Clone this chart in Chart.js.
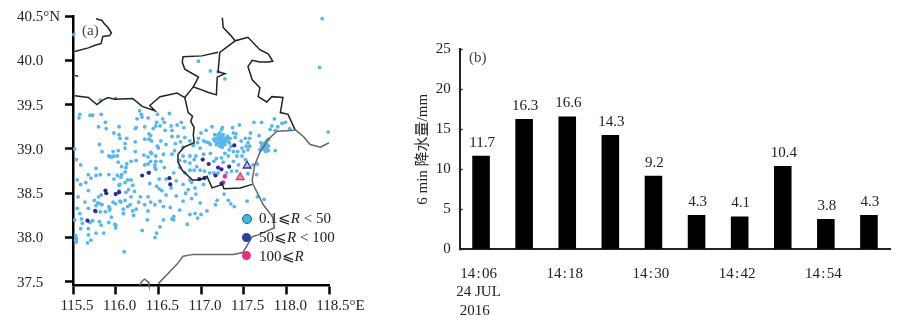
<!DOCTYPE html>
<html lang="en">
<head>
<meta charset="UTF-8">
<title>Rain stations and 6 min rainfall</title>
<script src="https://cdn.jsdelivr.net/npm/chart.js@4"></script>
<style>
body { margin: 0; background: #fff; }
#page { position: relative; width: 907px; height: 326px; overflow: hidden; font-family: "Liberation Serif", serif; font-size: 15px; color: #222; }
canvas { position: absolute; top: 0; }
#mapChart { left: 0; }
#barChart { left: 400px; }
.note { position: absolute; line-height: 18px; white-space: nowrap; }
.dot { position: absolute; border-radius: 50%; width: 9px; height: 9px; }
</style>
</head>
<body>
<div id="page">
  <canvas id="mapChart" width="400" height="326"></canvas>
  <canvas id="barChart" width="507" height="326"></canvas>
  <span class="note" style="left:82px;top:21px;color:#444">(a)</span>
  <span class="note" style="left:469px;top:48px;color:#444">(b)</span>
  <span class="dot" style="left:242px;top:214px;background:#3fb9e4;border:1px solid #1c5f78;width:8px;height:8px"></span>
  <span class="dot" style="left:242px;top:233px;background:#2c419f"></span>
  <span class="dot" style="left:242px;top:251px;background:#e2327f"></span>
  <span class="note" style="left:259px;top:209px">0.1⩽<i>R</i> &lt; 50</span>
  <span class="note" style="left:259px;top:228px">50⩽<i>R</i> &lt; 100</span>
  <span class="note" style="left:259px;top:247px">100⩽<i>R</i></span>
</div>

<script>
// panel (a) axes
const lonTicks = [115.5, 116, 116.5, 117, 117.5, 118, 118.5];
const lonLabels = ['115.5', '116.0', '116.5', '117.0', '117.5', '118.0', '\u00a0\u00a0\u00a0\u00a0118.5°E'];
const latTicks = [37.5, 38, 38.5, 39, 39.5, 40, 40.5];
const latLabels = ['37.5', '38.0', '38.5', '39.0', '39.5', '40.0', '40.5°N'];

// stations, [lon, lat]
const lightStations = [
[115.58,39.39],[115.57,39.35],[115.70,39.38],[115.73,39.38],[115.83,39.39],[115.88,39.30],[115.80,39.25],[115.89,39.23],[116.04,39.25],[115.98,39.18],
[116.04,39.16],[116.05,39.12],[116.13,39.12],[116.11,39.06],[116.11,39.01],[115.81,39.05],[115.84,38.97],[115.97,38.97],[116.03,38.98],[115.92,38.92],
[115.94,38.91],[115.96,38.91],[115.98,38.92],[116.02,38.92],[115.52,39.00],[115.54,38.88],[115.59,38.82],[116.03,38.85],[116.07,38.80],[116.13,38.83],
[116.18,38.86],[116.24,38.87],[116.12,38.79],[115.77,38.78],[115.68,38.71],[115.77,38.70],[115.82,38.71],[115.71,38.67],[115.92,38.71],[116.02,38.70],
[116.07,38.71],[116.11,38.74],[116.06,38.68],[115.98,38.66],[115.55,38.65],[115.59,38.60],[115.65,38.62],[116.14,38.65],[116.18,38.65],[116.11,38.62],
[116.05,38.60],[116.04,38.59],[116.20,38.59],[116.15,38.54],[116.12,38.51],[116.04,38.53],[116.22,38.52],[115.68,38.53],
[116.28,39.43],[116.30,39.39],[116.31,39.36],[116.25,39.34],[116.38,39.35],[116.49,39.39],[116.55,39.34],[116.63,39.40],[116.48,39.30],[116.57,39.30],
[116.52,39.26],[116.47,39.26],[116.44,39.23],[116.34,39.25],[116.24,39.24],[116.23,39.23],[116.65,39.26],[116.66,39.21],[116.58,39.21],[116.39,39.17],
[116.41,39.15],[116.66,39.14],[116.34,39.11],[116.39,39.11],[116.42,39.09],[116.53,39.09],[116.23,39.08],[116.59,39.05],[116.49,39.03],[116.50,39.01],
[116.41,38.96],[116.23,38.97],[116.33,38.93],[116.38,38.91],[116.42,38.95],[116.56,38.94],[116.47,38.92],[116.66,38.94],[116.41,38.86],[116.47,38.86],
[116.53,38.86],[116.38,38.83],[116.34,38.82],[116.46,38.82],[116.46,38.79],[116.57,38.79],[116.47,38.77],[116.38,38.73],[116.51,38.66],[116.59,38.66],
[116.40,38.61],[116.48,38.58],[116.51,38.55],[116.54,38.53],[116.65,38.56],
[115.56,38.46],[115.80,38.46],[115.83,38.48],[116.18,38.46],[116.29,38.46],[116.38,38.46],[116.59,38.48],[115.75,38.42],[115.64,38.40],[115.79,38.39],
[115.82,38.38],[115.84,38.37],[115.97,38.40],[116.00,38.38],[116.05,38.41],[116.06,38.40],[116.11,38.42],[116.27,38.40],[116.41,38.40],[116.52,38.41],
[116.46,38.37],[116.34,38.37],[116.14,38.35],[116.17,38.37],[115.92,38.35],[115.93,38.33],[115.55,38.33],[115.68,38.33],[115.77,38.36],[116.09,38.32],
[116.56,38.35],[116.24,38.32],[116.20,38.30],[116.38,38.30],[116.64,38.34],[115.82,38.29],[115.88,38.29],[115.93,38.31],[115.58,38.27],[116.09,38.27],
[116.21,38.25],[115.95,38.23],[115.77,38.29],[115.60,38.21],[115.52,38.20],[115.73,38.19],[115.81,38.18],[115.92,38.17],[116.37,38.20],[116.56,38.20],
[116.66,38.21],[115.61,38.16],[115.70,38.17],[115.83,38.14],[115.99,38.15],[116.00,38.14],[116.00,38.11],[115.59,38.10],[115.68,38.10],[116.52,38.12],
[116.31,38.08],[115.77,38.05],[115.86,38.05],[116.48,38.05],[115.68,38.03],[116.46,38.00],[115.53,38.02],[115.54,37.99],[115.53,37.97],[115.54,37.95],
[115.71,37.97],[115.67,37.94],[116.10,37.84],
[118.42,40.47],[118.39,39.92],[118.49,39.19],[116.97,39.99],[117.11,39.88],[117.20,39.87],[117.28,39.79],[115.51,40.29],[115.82,39.55],[116.00,39.57],
[116.72,39.27],[116.77,39.30],[116.80,39.24],[116.73,39.14],[116.81,39.13],[116.76,39.08],[116.70,39.06],[116.79,39.02],[116.69,38.98],[117.00,39.18],
[117.06,39.21],[117.13,39.25],[117.37,39.24],[117.45,39.27],[117.62,39.30],[117.71,39.30],[117.41,39.17],[117.58,39.18],[117.68,39.15],[117.47,39.09],
[117.34,39.12],[116.97,39.12],[116.87,39.09],[116.91,39.04],[116.96,39.07],[116.99,39.01],[117.03,39.09],[117.06,39.08],[117.09,39.07],[117.11,39.05],
[117.16,39.09],[117.18,39.12],[117.20,39.16],[117.22,39.18],[117.24,39.22],[117.25,39.24],[117.22,39.11],[117.24,39.09],[117.26,39.07],[117.28,39.05],
[117.20,39.07],[117.22,39.03],[117.25,39.02],[117.28,39.12],[117.31,39.14],[117.18,39.05],[117.15,39.11],[117.16,39.16],[117.21,39.13],[117.24,39.14],
[117.26,39.16],[117.28,39.09],[117.30,39.09],[117.32,39.11],[117.33,39.07],[117.35,39.03],[117.23,39.12],[117.25,39.11],[117.20,39.11],[117.23,39.07],
[117.26,39.12],[117.22,39.15],[117.20,39.09],[117.24,39.05],
[117.38,39.18],[117.40,39.13],[117.33,38.99],[117.38,38.97],[117.43,38.97],[117.48,39.01],[117.53,39.03],[117.55,39.07],[117.57,39.12],[117.52,39.12],
[117.57,39.03],[117.55,38.99],[117.50,38.97],[117.48,38.92],[117.52,38.88],[117.28,38.95],[117.32,38.92],[117.24,38.90],[117.18,38.89],[117.11,38.95],
[117.03,38.94],[116.94,38.92],[116.87,38.92],[116.79,38.92],[116.81,38.86],[116.75,38.87],[116.87,38.84],[116.92,38.88],[116.95,38.80],[116.92,38.76],
[116.87,38.76],[116.99,38.76],[117.04,38.75],[117.15,38.86],[117.26,38.85],[117.38,38.86],[117.42,38.92],[117.44,38.82],[117.42,38.75],[117.36,38.75],
[117.30,38.73],[117.20,38.73],[117.15,38.73],[117.10,38.73],[117.55,38.72],[117.65,38.71],[117.61,38.82],[117.66,38.83],[116.75,38.79],[116.81,38.73],
[116.87,38.65],[116.89,38.62],[116.85,38.54],[116.79,38.60],[116.68,38.73],[116.71,38.64],[116.93,38.56],[117.03,38.60],
[117.69,38.99],[117.71,39.03],[117.73,39.05],[117.75,39.07],[117.77,39.09],[117.79,39.11],[117.72,39.02],[117.75,39.03],[117.77,39.05],[117.74,38.99],
[117.77,39.00],[117.70,39.07],[117.79,39.03],[117.79,38.98],[117.76,38.97],[117.86,39.34],[117.81,39.22],[117.83,39.26],[117.90,39.25],[117.95,39.29],
[117.99,39.30],[118.04,39.23],[117.87,39.21],[117.87,38.98],
[116.82,38.50],[116.71,38.47],[116.89,38.44],[116.94,38.49],[116.79,38.41],[116.99,38.39],[116.75,38.31],[116.87,38.26],[116.93,38.27],[116.96,38.22],
[117.00,38.26],[117.07,38.30],[116.68,38.24],[116.68,38.20],[116.84,38.15],[117.17,38.37],[117.19,38.42],[117.27,38.49],[117.32,38.42],[117.35,38.38],
[117.39,38.35],[117.54,38.41],[117.74,38.43],[117.66,38.46]
];
const darkStations = [
[116.31,38.70],[116.39,38.73],[116.63,38.67],[116.64,38.60],[115.88,38.53],[115.89,38.50],[116.00,38.49],[116.04,38.51],[115.67,38.19],[115.76,38.30],
[117.39,39.04],[117.02,38.88],[117.09,38.83],[117.20,38.79],[117.24,38.77],[117.33,38.80],[117.17,38.70],[117.04,38.67],[116.98,38.66],[117.24,38.61]
];
const heavyStations = [[117.28,38.69],[117.26,38.62]];
const blueTriangle = [[117.54,38.81]];
const pinkTriangle = [[117.46,38.68]];

// boundaries, [lon, lat]
const northWestLine = [[115.52,40.10],[115.68,40.14],[115.76,40.17],[115.83,40.19],[115.85,40.27],[115.93,40.28],[115.95,40.31],[115.91,40.37],[115.86,40.42],[115.84,40.45],[115.77,40.47]];
const westNick = [[115.52,39.83],[115.56,39.82]];
const hebeiLine = [[115.52,39.60],[115.68,39.58],[115.78,39.50],[115.85,39.55],[115.91,39.58],[115.99,39.56],[116.20,39.57],[116.31,39.48],[116.46,39.43],[116.40,39.49],[116.52,39.59],[116.72,39.63],[116.81,39.58],[116.91,39.70]];
const tianjinWest = [[116.81,39.58],[116.85,39.41],[116.90,39.37],[116.88,39.31],[116.92,39.24],[116.91,39.16],[116.92,39.07],[116.80,39.02],[116.73,38.94],[116.73,38.85],[116.78,38.76],[116.90,38.65],[116.99,38.65],[117.07,38.69],[117.13,38.56],[117.25,38.60],[117.27,38.55],[117.46,38.56],[117.60,38.60]];
const northEastLine = [[117.25,40.48],[117.26,40.37],[117.34,40.29],[117.40,40.22],[117.55,40.26],[117.69,40.12],[117.79,40.07],[117.84,39.99],[117.79,39.98],[117.69,39.98],[117.60,40.00],[117.55,39.93],[117.60,39.78],[117.69,39.69],[117.67,39.59],[117.77,39.53],[117.83,39.59],[117.96,39.58],[117.93,39.41],[118.02,39.39],[118.10,39.22]];
const tianjinNorth = [[117.40,40.22],[117.22,40.09],[117.20,39.87],[117.28,39.85],[117.19,39.81],[117.18,39.61],[117.08,39.64],[116.97,39.68],[116.91,39.70],[116.97,39.81],[116.81,39.90],[116.78,39.98],[116.79,40.04],[117.01,40.05],[117.20,40.09]];
const coastEast = [[118.10,39.22],[118.20,39.14],[118.28,39.05],[118.40,39.02],[118.50,39.07]];
const coastSouth = [[118.10,39.21],[117.89,39.20],[117.79,39.11],[117.73,39.02],[117.69,38.96],[117.63,38.82],[117.60,38.65],[117.61,38.60],[117.73,38.37],[117.84,38.23],[117.86,38.11],[117.67,38.03],[117.60,38.01],[117.49,37.83],[117.38,37.81],[117.14,37.81],[116.91,37.81],[116.79,37.79],[116.72,37.70],[116.60,37.58],[116.50,37.48]];
const southArc = [[116.28,37.46],[116.31,37.51],[116.34,37.53],[116.38,37.50],[116.39,37.46]];

// panel (b)
const times = ['14:06','14:12','14:18','14:24','14:30','14:36','14:42','14:48','14:54','15:00'];
const rainfall = [11.7, 16.3, 16.6, 14.3, 9.2, 4.3, 4.1, 10.4, 3.8, 4.3];
const timeLabels = [['14\u200a:\u200a06','24 JUL','2016\u00a0\u00a0'],'','14\u200a:\u200a18','','14\u200a:\u200a30','','14\u200a:\u200a42','','14\u200a:\u200a54',''];

const serif = 'Liberation Serif';
const tickFont = { family: serif, size: 15 };

function pts(list) {
    return list.map(function (p) { return { x: p[0], y: p[1] }; });
}
function boundary(list, color) {
    return { type: 'scatter', data: pts(list), showLine: true, borderColor: color, borderWidth: 1.5, pointRadius: 0, clip: false, order: 1 };
}
function stations(list, color, radius, order) {
    return { type: 'scatter', data: pts(list), backgroundColor: color, borderWidth: 0, pointRadius: radius, clip: false, order: order };
}
function triangle(list, fill, line) {
    return { type: 'scatter', data: pts(list), pointStyle: 'triangle', backgroundColor: fill, borderColor: line, borderWidth: 1.3, pointRadius: 4.5, order: 0 };
}

new Chart(document.getElementById('mapChart'), {
    type: 'scatter',
    data: {
        datasets: [
            boundary(northWestLine, '#222'),
            boundary(westNick, '#222'),
            boundary(hebeiLine, '#222'),
            boundary(tianjinWest, '#222'),
            boundary(northEastLine, '#222'),
            boundary(tianjinNorth, '#222'),
            boundary(coastEast, '#666'),
            boundary(coastSouth, '#666'),
            boundary(southArc, '#666'),
            stations(lightStations, '#5ab6ea', 1.9, 3),
            stations(darkStations, '#2b2b92', 2.1, 2),
            stations(heavyStations, '#bd45a8', 2.3, 2),
            triangle(blueTriangle, 'rgba(170,170,225,0.7)', '#3333a0'),
            triangle(pinkTriangle, 'rgba(240,90,130,0.7)', '#e6305f')
        ]
    },
    options: {
        responsive: false,
        animation: false,
        layout: { padding: { left: 17, top: 16, right: 71, bottom: 0 } },
        plugins: { legend: { display: false }, tooltip: { enabled: false } },
        scales: {
            x: {
                type: 'linear', min: 115.5, max: 118.5,
                afterFit: function (s) { s.height = 40.6; },
                afterBuildTicks: function (s) { s.ticks = lonTicks.map(function (v) { return { value: v }; }); },
                grid: { drawOnChartArea: false, tickLength: 9, tickWidth: 2.5, tickColor: '#000' },
                border: { width: 2.5, color: '#000' },
                ticks: {
                    autoSkip: false, maxRotation: 0, padding: 3, labelOffset: 4,
                    font: tickFont, color: '#222',
                    callback: function (v, i) { return lonLabels[i]; }
                }
            },
            y: {
                type: 'linear', min: 37.46, max: 40.5,
                afterFit: function (s) { s.width = 56; },
                afterBuildTicks: function (s) { s.ticks = latTicks.map(function (v) { return { value: v }; }); },
                grid: { drawOnChartArea: false, tickLength: 8, tickWidth: 2.5, tickColor: '#000' },
                border: { width: 2.5, color: '#000' },
                ticks: {
                    autoSkip: false, crossAlign: 'far', labelOffset: 1,
                    font: tickFont, color: '#222',
                    callback: function (v, i) { return latLabels[i]; }
                }
            }
        }
    }
});

// value above each bar
const barValues = {
    id: 'barValues',
    afterDatasetsDraw: function (chart) {
        const ctx = chart.ctx;
        ctx.save();
        ctx.font = '15px "' + serif + '"';
        ctx.fillStyle = '#222';
        ctx.textAlign = 'center';
        ctx.textBaseline = 'middle';
        chart.getDatasetMeta(0).data.forEach(function (bar, i) {
            ctx.fillText(rainfall[i].toFixed(1), bar.x + 1, bar.y - 13);
        });
        ctx.restore();
    }
};

new Chart(document.getElementById('barChart'), {
    type: 'bar',
    data: {
        labels: times,
        datasets: [{ data: rainfall, backgroundColor: '#000', categoryPercentage: 1, barPercentage: 0.408 }]
    },
    plugins: [barValues],
    options: {
        responsive: false,
        animation: false,
        layout: { padding: { left: 14, top: 49.3, right: 16.5, bottom: 0 } },
        plugins: { legend: { display: false }, tooltip: { enabled: false } },
        scales: {
            x: {
                afterFit: function (s) { s.height = 76.7; },
                grid: { display: false },
                border: { width: 2, color: '#222' },
                ticks: {
                    autoSkip: false, maxRotation: 0, padding: 7, labelOffset: -2.5,
                    font: Object.assign({ lineHeight: 1.25 }, tickFont), color: '#222',
                    callback: function (v, i) { return timeLabels[i]; }
                }
            },
            y: {
                min: 0, max: 25,
                afterFit: function (s) { s.width = 45.5; },
                grid: { drawOnChartArea: false, tickLength: -3, tickWidth: 1.5, tickColor: '#222' },
                border: { width: 2, color: '#222' },
                ticks: { stepSize: 5, padding: 11.7, font: tickFont, color: '#222' },
                title: {
                    display: true,
                    text: '6 min 降水量/mm',
                    padding: 0,
                    color: '#222',
                    font: { family: serif + ', "Noto Sans CJK SC"', size: 15 }
                }
            }
        }
    }
});
</script>
</body>
</html>
